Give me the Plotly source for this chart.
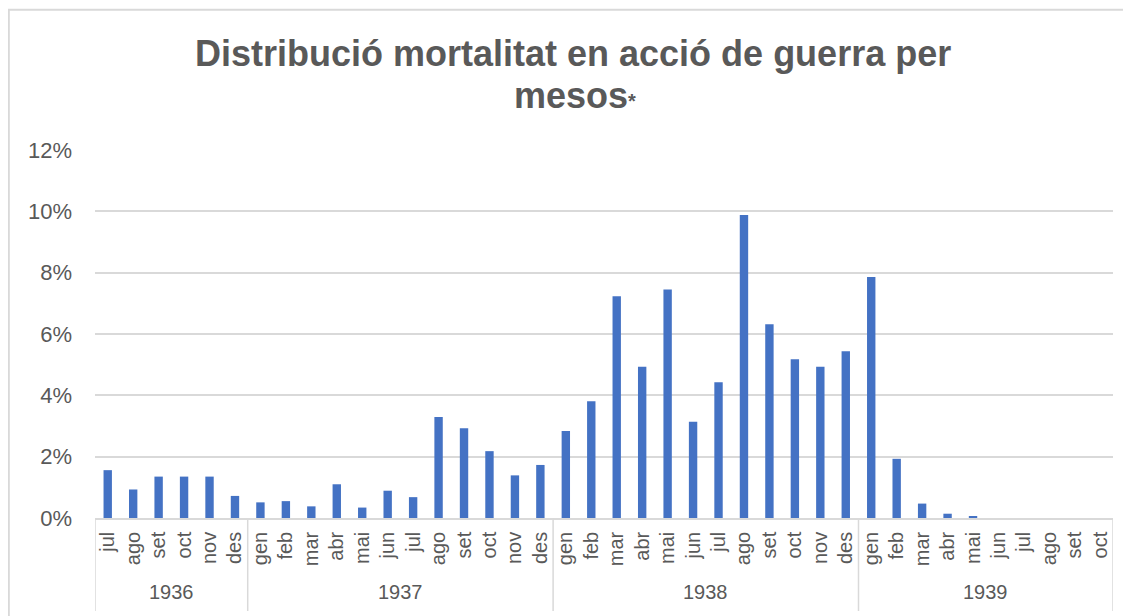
import plotly.graph_objects as go

years = ["1936"] * 6 + ["1937"] * 12 + ["1938"] * 12 + ["1939"] * 10
months = ["jul", "ago", "set", "oct", "nov", "des",
          "gen", "feb", "mar", "abr", "mai", "jun", "jul", "ago", "set", "oct", "nov", "des",
          "gen", "feb", "mar", "abr", "mai", "jun", "jul", "ago", "set", "oct", "nov", "des",
          "gen", "feb", "mar", "abr", "mai", "jun", "jul", "ago", "set", "oct"]
values = [1.56, 0.93, 1.35, 1.35, 1.35, 0.72,
          0.51, 0.55, 0.38, 1.10, 0.34, 0.89, 0.68, 3.29, 2.93, 2.18, 1.39, 1.73,
          2.84, 3.81, 7.23, 4.93, 7.45, 3.14, 4.43, 9.88, 6.32, 5.18, 4.93, 5.44,
          7.86, 1.93, 0.47, 0.14, 0.04, 0.0, 0.0, 0.0, 0.0, 0.0]
values = [v / 100 for v in values]
idx = list(range(len(months)))

W, H = 1131, 616
OFF = 8  # page body margin offset (screen px = figure px + OFF)
# plot area in screen pixels (from reference)
L, R, T, B = 95, 1113, 150, 518
ml, mr, mt, mb = L - OFF, W - (R - OFF), T - OFF, H - (B - OFF)

pw = W - ml - mr
ph = H - mt - mb
def px2x(px):
    return (px - OFF - ml) / pw
def px2y(py):
    return (H - mb - (py - OFF)) / ph

fig = go.Figure(go.Bar(
    x=idx, y=values,
    marker=dict(color="#4472C4", line=dict(width=0)),
))

# year groups: labels and dividers
groups = []
for i, yr in enumerate(years):
    if not groups or groups[-1][0] != yr:
        groups.append([yr, i, i])
    else:
        groups[-1][2] = i

annotations = [
    dict(x=573, xref="paper", y=53, yref="paper", text="<b>Distribució mortalitat en acció de guerra per</b>",
         showarrow=False, xanchor="center", yanchor="middle",
         font=dict(size=36, color="#595959")),
    dict(x=575, xref="paper", y=96, yref="paper",
         text="<b>mesos</b><span style='font-size:20px'><b>*</b></span>",
         showarrow=False, xanchor="center", yanchor="middle",
         font=dict(size=36, color="#595959")),
]
for a in annotations:
    a["x"] = px2x(a["x"])
    a["y"] = px2y(a["y"])

shapes = [
    dict(type="rect", xref="paper", yref="paper",
         x0=px2x(8.8), x1=px2x(1160), y0=px2y(660), y1=px2y(9.8),
         line=dict(color="#d9d9d9", width=2), fillcolor="rgba(0,0,0,0)", layer="below"),
]
for yr, a, b in groups:
    annotations.append(dict(
        x=(a + b) / 2, xref="x", y=px2y(592), yref="paper",
        text=yr, showarrow=False, xanchor="center", yanchor="middle",
        font=dict(size=20, color="#595959"),
    ))
    shapes.append(dict(type="line", xref="x", yref="paper",
                       x0=a - 0.5, x1=a - 0.5, y0=px2y(518), y1=px2y(611),
                       line=dict(color="#d9d9d9", width=1.5)))
shapes.append(dict(type="line", xref="x", yref="paper",
                   x0=groups[-1][2] + 0.5, x1=groups[-1][2] + 0.5, y0=px2y(518), y1=px2y(611),
                   line=dict(color="#d9d9d9", width=1.5)))

fig.update_layout(
    width=W, height=H,
    margin=dict(l=ml, r=mr, t=mt, b=mb, autoexpand=False),
    paper_bgcolor="white", plot_bgcolor="white",
    bargap=0.67,
    showlegend=False,
    font=dict(family="Liberation Sans, Arial, sans-serif", color="#595959"),
    yaxis=dict(
        range=[0, 0.12], dtick=0.02, tickformat=".0%",
        showgrid=True, gridcolor="#d9d9d9", gridwidth=1.5,
        zeroline=False, showline=False,
        tickfont=dict(size=22, color="#595959"),
        ticks="", ticklabelstandoff=22, automargin=False,
    ),
    xaxis=dict(
        range=[-0.5, len(months) - 0.5],
        tickmode="array", tickvals=idx, ticktext=months,
        showline=True, linecolor="#d9d9d9", linewidth=1.5,
        tickangle=-90,
        tickfont=dict(size=20, color="#595959"),
        ticks="", ticklabelstandoff=4,
        showgrid=False, zeroline=False, automargin=False,
    ),
    annotations=annotations,
    shapes=shapes,
)

fig.write_html("out.html")
